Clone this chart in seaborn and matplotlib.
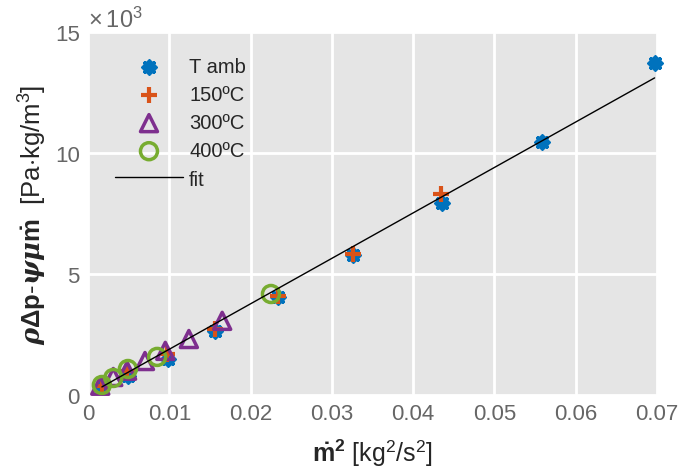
#!/usr/bin/env python3
import matplotlib
matplotlib.use('Agg')
import matplotlib.pyplot as plt
import numpy as np
import pandas as pd
import seaborn as sns

sns.set_theme(style='white')
plt.rcParams['font.family'] = ['Liberation Sans', 'DejaVu Sans']
plt.rcParams['mathtext.fontset'] = 'custom'
plt.rcParams['mathtext.rm'] = 'Liberation Sans'
plt.rcParams['mathtext.bf'] = 'Liberation Sans:bold'
plt.rcParams['mathtext.it'] = 'DejaVu Serif:italic:bold'

# mass flow squared [kg^2/s^2] and rho*dp - psi*mu*mdot [Pa kg/m^3]
tamb_x = [0.0017, 0.0049, 0.0098, 0.0156, 0.0234, 0.0326, 0.0435, 0.0558, 0.0697]
tamb_y = [330, 785, 1490, 2640, 4050, 5785, 7930, 10450, 13720]
c150_x = [0.0017, 0.0048, 0.0097, 0.0156, 0.0234, 0.0326, 0.0434]
c150_y = [370, 990, 1690, 2720, 4100, 5830, 8300]
c300_x = [0.0015, 0.0031, 0.0048, 0.0070, 0.0095, 0.0124, 0.0165]
c300_y = [380, 740, 1000, 1400, 1820, 2310, 3060]
c400_x = [0.0017, 0.0031, 0.0049, 0.0085, 0.0225]
c400_y = [410, 700, 1070, 1570, 4170]
fit_x = [0.0017, 0.0697]
fit_y = [330, 13100]

series = [
    ('T amb', tamb_x, tamb_y, '#0072BD', (8, 2, 0)),
    ('150ºC', c150_x, c150_y, '#D95319', 'P'),
    ('300ºC', c300_x, c300_y, '#7E2F8E', '^'),
    ('400ºC', c400_x, c400_y, '#77AC30', 'o'),
]

fig = plt.figure(figsize=(6.99, 4.77), dpi=100)
ax = fig.add_axes([0.126, 0.170, 0.814, 0.761])
ax.set_facecolor('#E5E5E5')

for name, xs, ys, col, mk in series:
    df = pd.DataFrame({'x': xs, 'y': ys})
    if mk in ('^', 'o'):
        sns.scatterplot(data=df, x='x', y='y', ax=ax, marker=mk, s=150,
                        facecolors='none', edgecolor=col, linewidth=2.5,
                        label=name, zorder=3, clip_on=False)
    elif mk == 'P':
        sns.scatterplot(data=df, x='x', y='y', ax=ax, marker='+', s=120,
                        color=col, linewidth=3, label=name, zorder=3,
                        clip_on=False)
    else:
        sns.scatterplot(data=df, x='x', y='y', ax=ax, marker=mk, s=75,
                        color=col, edgecolor=col, linewidth=3, label=name,
                        zorder=3, clip_on=False)

fit_df = pd.DataFrame({'x': fit_x, 'y': fit_y})
sns.lineplot(data=fit_df, x='x', y='y', ax=ax, color='black', lw=1,
             label='fit', zorder=4)

ax.set_xlim(0, 0.07)
ax.set_ylim(0, 15000)
ax.set_xticks(np.arange(0, 0.0701, 0.01))
ax.set_xticklabels(['0', '0.01', '0.02', '0.03', '0.04', '0.05', '0.06', '0.07'])
ax.set_yticks([0, 5000, 10000, 15000])
ax.set_yticklabels(['0', '5', '10', '15'])
ax.grid(True, color='white', lw=2)
ax.set_axisbelow(True)
for sp in ax.spines.values():
    sp.set_visible(False)
ax.tick_params(length=0, labelsize=16, labelcolor='#666666', pad=6)

ax.text(0.0, 1.0, r'$\mathrm{\times}\,$10$^3$', transform=ax.transAxes,
        fontsize=17, color='#666666', ha='left', va='bottom')

ax.set_xlabel(r'$\mathbf{\dot{m}^2}$ [kg$^2$/s$^2$]', fontsize=18, labelpad=9)
ax.set_ylabel(r'$\rho\mathbf{\Delta p}$-$\psi\mu\mathbf{\dot{m}}$  [Pa$\cdot$kg/m$^3$]',
              fontsize=18.5, labelpad=4)

leg = ax.legend(loc='upper left', bbox_to_anchor=(0.015, 0.98), frameon=False,
                fontsize=14.5, handlelength=3.4, handletextpad=0.3,
                labelspacing=0.45)

fig.savefig('out.png', dpi=100)
